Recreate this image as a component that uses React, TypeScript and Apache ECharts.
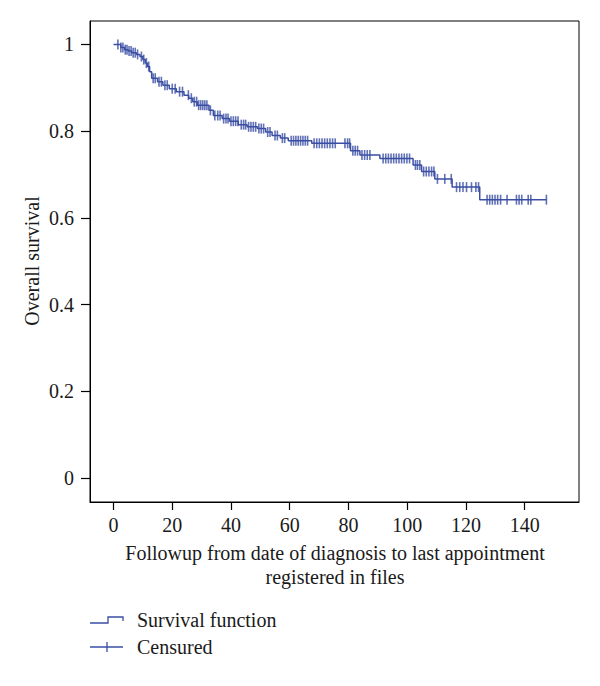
import React, { useEffect, useRef } from "react";
import * as echarts from "echarts";

// Kaplan–Meier step function: time at which the level starts, and the level
const stepTimes = [
  0, 2.5, 3.8, 5, 6.2, 7.8, 9, 10, 10.8, 11.5, 12.3, 13, 15, 16.8, 19, 21.4,
  24, 25.6, 27, 28.5, 32.5, 34, 37, 39.5, 42.5, 45.5, 49, 51.8, 54, 56.8, 59.5,
  67.5, 80.7, 83.9, 90.7, 102, 104.9, 109.4, 115.3, 124.7,
];
const stepSurvival = [
  1, 0.993, 0.988, 0.985, 0.981, 0.977, 0.972, 0.965, 0.957, 0.949, 0.937,
  0.922, 0.914, 0.906, 0.898, 0.891, 0.883, 0.876, 0.868, 0.86, 0.848, 0.836,
  0.829, 0.823, 0.815, 0.81, 0.806, 0.798, 0.79, 0.784, 0.778, 0.772, 0.755,
  0.745, 0.737, 0.722, 0.707, 0.69, 0.671, 0.642,
];
const lastFollowup = 147.4;

// Censored observations (times)
const censorTimes = [
  1.5, 2.5, 3.2, 4, 4.6, 5.3, 6, 6.7, 7.4, 8.2, 9.5, 10.3, 11.2, 12, 13.5, 14.2,
  15.5, 16.3, 17.5, 18.3, 20, 21, 22.5, 23.5, 25.5, 26.5, 27.5, 28.3, 29, 29.7,
  30.4, 31.1, 31.8, 33, 34.5, 35.5, 36.3, 37.5, 38.3, 39, 40, 40.8, 41.6, 42.4,
  43.5, 44.3, 45, 46, 46.8, 47.6, 48.4, 49.5, 50.3, 51.1, 52.5, 53.3, 55, 55.8,
  57.5, 58.3, 60.5, 61.3, 62.1, 62.9, 63.7, 64.5, 65.3, 66.1, 68.3, 69.2, 70.1,
  71, 71.9, 72.8, 73.7, 74.6, 75.5, 78.8, 79.7, 80.4, 81.5, 82.3, 83.1, 84.6,
  85.5, 86.4, 87.3, 91.8, 92.7, 93.6, 94.5, 95.4, 96.3, 97.2, 98.1, 99, 99.9,
  100.8, 102.8, 103.5, 104.3, 105.6, 106.5, 107.4, 108.3, 109.1, 110.3, 112.8,
  115, 116.8, 117.9, 119, 120.2, 121.9, 123.4, 124.3, 127.2, 128.1, 129, 129.9,
  130.8, 131.8, 134, 137.2, 138.1, 139, 141.2, 142.1, 147.4,
];

const xTicks = [0, 20, 40, 60, 80, 100, 120, 140];
const yTicks = [0, 0.2, 0.4, 0.6, 0.8, 1];

const xTitleLines = [
  "Followup from date of diagnosis to last appointment",
  "registered in files",
];
const yTitle = "Overall survival";
const legendLabels = ["Survival function", "Censured"];

const BLUE = "#3a4ea4";
const FONT = "'Liberation Serif', 'DejaVu Serif', serif";
const TEXT = "#1a1a1a";
const FS = 20;

function survivalAt(t: number): number {
  let s = stepSurvival[0];
  for (let i = 0; i < stepTimes.length; i++) {
    if (stepTimes[i] <= t) s = stepSurvival[i];
  }
  return s;
}

export default function App() {
  const ref = useRef<HTMLDivElement>(null);

  useEffect(() => {
    document.body.style.margin = "0";
    if (!ref.current) return;
    const chart = echarts.init(ref.current, undefined, { renderer: "svg" });

    const lineData = stepTimes.map((t, i) => [t, stepSurvival[i]]);
    lineData.push([lastFollowup, stepSurvival[stepSurvival.length - 1]]);
    const censorData = censorTimes.map((t) => [t, survivalAt(t)]);

    chart.setOption({
      animation: false,
      backgroundColor: "#ffffff",
      grid: {
        left: 90,
        right: 21,
        top: 21,
        bottom: 184,
        show: true,
        borderColor: "#000",
        borderWidth: 1,
        backgroundColor: "transparent",
      },
      xAxis: {
        type: "value",
        min: -8,
        max: 158.5,
        axisLine: { show: true, onZero: false, lineStyle: { color: "#000", width: 1 } },
        axisTick: {
          show: true,
          customValues: xTicks,
          length: 8,
          lineStyle: { color: "#000", width: 1.2 },
        },
        axisLabel: {
          customValues: xTicks,
          margin: 13,
          fontSize: FS,
          fontFamily: FONT,
          color: TEXT,
        },
        splitLine: { show: false },
      },
      yAxis: {
        type: "value",
        min: -0.055,
        max: 1.054,
        axisLine: { show: true, onZero: false, lineStyle: { color: "#000", width: 1 } },
        axisTick: {
          show: true,
          customValues: yTicks,
          length: 9,
          lineStyle: { color: "#000", width: 1.2 },
        },
        axisLabel: {
          customValues: yTicks,
          margin: 16,
          fontSize: FS,
          fontFamily: FONT,
          color: TEXT,
          formatter: (v: number) => String(Math.round(v * 10) / 10),
        },
        splitLine: { show: false },
      },
      series: [
        {
          type: "line",
          step: "end",
          data: lineData,
          symbol: "none",
          lineStyle: { color: BLUE, width: 1.5 },
          z: 2,
        },
        {
          type: "scatter",
          data: censorData,
          symbol: "rect",
          symbolSize: [1.6, 10],
          itemStyle: { color: BLUE },
          z: 3,
        },
      ],
      graphic: [
        {
          type: "text",
          x: 32,
          y: 261,
          rotation: Math.PI / 2,
          style: {
            text: yTitle,
            align: "center",
            verticalAlign: "middle",
            fontSize: FS,
            fontFamily: FONT,
            fill: TEXT,
          },
        },
        {
          type: "text",
          x: 335,
          y: 553,
          style: {
            text: xTitleLines[0],
            align: "center",
            verticalAlign: "middle",
            fontSize: FS,
            fontFamily: FONT,
            fill: TEXT,
          },
        },
        {
          type: "text",
          x: 335,
          y: 577,
          style: {
            text: xTitleLines[1],
            align: "center",
            verticalAlign: "middle",
            fontSize: FS,
            fontFamily: FONT,
            fill: TEXT,
          },
        },
        {
          type: "polyline",
          shape: {
            points: [
              [90, 623],
              [108, 623],
              [108, 617],
              [123, 617],
              [123, 621],
            ],
          },
          style: { stroke: BLUE, lineWidth: 1.3, fill: null },
        },
        {
          type: "text",
          x: 137,
          y: 620,
          style: {
            text: legendLabels[0],
            align: "left",
            verticalAlign: "middle",
            fontSize: FS,
            fontFamily: FONT,
            fill: TEXT,
          },
        },
        {
          type: "line",
          shape: { x1: 90, y1: 647, x2: 123, y2: 647 },
          style: { stroke: BLUE, lineWidth: 1.3 },
        },
        {
          type: "line",
          shape: { x1: 107, y1: 642, x2: 107, y2: 652 },
          style: { stroke: BLUE, lineWidth: 1.3 },
        },
        {
          type: "text",
          x: 137,
          y: 647,
          style: {
            text: legendLabels[1],
            align: "left",
            verticalAlign: "middle",
            fontSize: FS,
            fontFamily: FONT,
            fill: TEXT,
          },
        },
      ],
    });

    return () => chart.dispose();
  }, []);

  return <div ref={ref} style={{ width: 600, height: 686 }} />;
}
